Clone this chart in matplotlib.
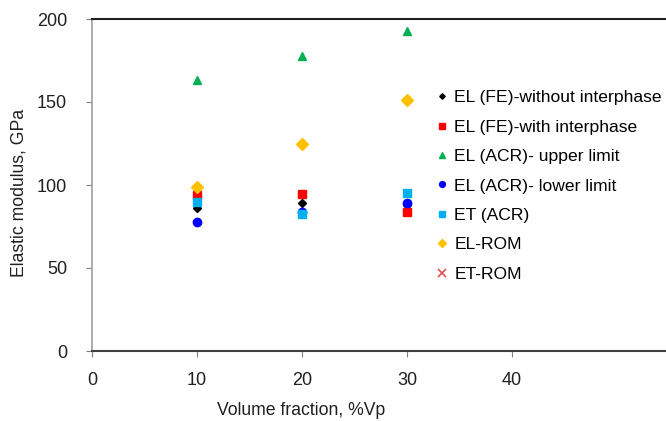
import matplotlib
matplotlib.use("Agg")
import matplotlib.pyplot as plt

plt.rcParams['font.family'] = ['Liberation Sans', 'DejaVu Sans']

x = [10, 20, 30]
el_fe_without = [86, 89, 88]
el_fe_with = [94, 94.5, 84]
el_acr_upper = [163, 178, 193]
el_acr_lower = [77.5, 84, 89]
et_acr = [90, 82.5, 95]
el_rom = [99, 124.5, 151]
et_rom_x = []
et_rom = []

series = [
    ("EL (FE)-without interphase", x, el_fe_without, dict(marker='D', color='black', ms=4)),
    ("EL (FE)-with interphase", x, el_fe_with, dict(marker='s', color='#FF0000', ms=6)),
    ("EL (ACR)- upper limit", x, el_acr_upper, dict(marker='^', color='#00B050', ms=6)),
    ("EL (ACR)- lower limit", x, el_acr_lower, dict(marker='o', color='#0000FF', ms=6)),
    ("ET (ACR)", x, et_acr, dict(marker='s', color='#00B0F0', ms=6)),
    ("EL-ROM", x, el_rom, dict(marker='D', color='#FFC000', ms=6)),
    ("ET-ROM", et_rom_x, et_rom, dict(marker='x', color='#E05050', ms=8, mew=1.2)),
]

fig = plt.figure(figsize=(6.66, 4.21), dpi=100)
ax = fig.add_axes([92/666, 1-351/421, 1-92/666, (351-19)/421])

for label, xs, ys, kw in series:
    ax.plot(xs, ys, linestyle='none', label=label, **kw)

ax.set_xlim(0, (666-92)/10.5)
ax.set_ylim(0, 200)
ax.set_xticks([0, 10, 20, 30, 40])
ax.set_yticks([0, 50, 100, 150, 200])
ax.tick_params(axis='both', labelsize=13, length=4, color='#808080', labelcolor='#202020')
ax.tick_params(axis='y', pad=14)
ax.tick_params(axis='x', pad=11)
ax.spines['right'].set_visible(False)
ax.spines['left'].set_color('#A0A0A0')
ax.spines['left'].set_linewidth(1.2)
ax.spines['bottom'].set_color('#404040')
ax.spines['bottom'].set_linewidth(1.5)
ax.spines['top'].set_color('#202020')
ax.spines['top'].set_linewidth(1.5)

ax.set_xlabel("Volume fraction, %Vp", fontsize=12.7, color='#202020')
ax.set_ylabel("Elastic modulus, GPa", fontsize=12.7, color='#202020')
ax.xaxis.set_label_coords((301-92)/(666-92), -(402-351)/332)
ax.yaxis.set_label_coords(-(92-28)/(666-92), (351-193)/332)

leg = ax.legend(loc='upper left', bbox_to_anchor=((430-92)/574, 1-(83-19)/332),
                frameon=False, fontsize=12.6, markerscale=0.7,
                handlelength=0.6, handletextpad=0.4, labelspacing=0.81,
                borderaxespad=0)

fig.savefig("out.png", dpi=100)
